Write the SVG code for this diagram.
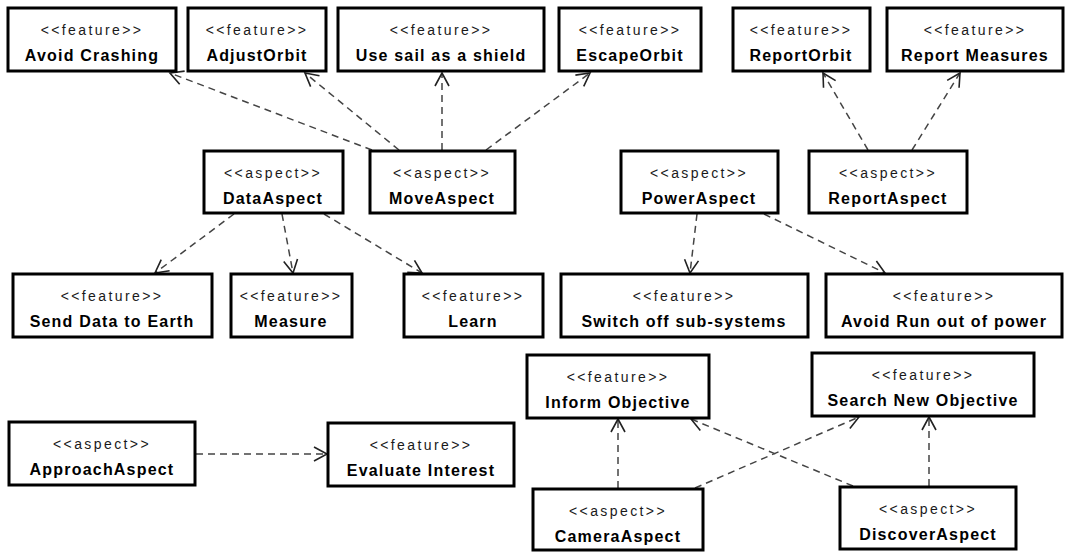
<svg xmlns="http://www.w3.org/2000/svg" width="1068" height="552" viewBox="0 0 1068 552">
  <defs>
    <style>
      .box { fill: #ffffff; stroke: #000000; stroke-width: 3; }
      .st { font-family: "Liberation Sans", Arial, sans-serif; font-size: 14px; letter-spacing: 2.4px; fill: #1a1a1a; text-anchor: middle; }
      .nm { font-family: "Liberation Sans", Arial, sans-serif; font-size: 16px; font-weight: bold; letter-spacing: 1.2px; fill: #000000; text-anchor: middle; }
      .dep { fill: none; stroke: #444444; stroke-width: 1.5; stroke-dasharray: 7 5; marker-end: url(#open); }
    </style>
    <!-- open V-shaped arrowhead for dependency arrows -->
    <marker id="open" viewBox="-15 -9 17 18" refX="0" refY="0" markerWidth="17" markerHeight="18" markerUnits="userSpaceOnUse" orient="auto">
      <path d="M-13,-7 L0,0 L-13,7" fill="none" stroke="#222222" stroke-width="1.6"/>
    </marker>
  </defs>

  <rect width="1068" height="552" fill="#ffffff"/>

  <!-- dependency connectors: aspect -> feature -->
  <g id="connectors">
    <line class="dep" x1="372" y1="150" x2="170" y2="73"/>
    <line class="dep" x1="399" y1="150" x2="305" y2="73"/>
    <line class="dep" x1="442" y1="150" x2="442" y2="73"/>
    <line class="dep" x1="486" y1="150" x2="590" y2="73"/>
    <line class="dep" x1="868" y1="150" x2="823" y2="73"/>
    <line class="dep" x1="912" y1="150" x2="960" y2="73"/>
    <line class="dep" x1="234" y1="214" x2="155" y2="273"/>
    <line class="dep" x1="282" y1="214" x2="293" y2="273"/>
    <line class="dep" x1="324" y1="214" x2="422" y2="273"/>
    <line class="dep" x1="697" y1="214" x2="690" y2="273"/>
    <line class="dep" x1="764" y1="214" x2="885" y2="273"/>
    <line class="dep" x1="196" y1="454" x2="327" y2="454"/>
    <line class="dep" x1="618" y1="488" x2="618" y2="419"/>
    <line class="dep" x1="695" y1="488" x2="859" y2="417"/>
    <line class="dep" x1="853" y1="486" x2="691" y2="419"/>
    <line class="dep" x1="929" y1="486" x2="929" y2="417"/>
  </g>

  <!-- row 1: features -->
  <g id="avoidCrashing">
    <rect class="box" x="8" y="8" width="168" height="63"/>
    <text class="st" x="92" y="35">&lt;&lt;feature&gt;&gt;</text>
    <text class="nm" x="92" y="61">Avoid Crashing</text>
  </g>
  <g id="adjustOrbit">
    <rect class="box" x="188" y="8" width="138" height="63"/>
    <text class="st" x="257" y="35">&lt;&lt;feature&gt;&gt;</text>
    <text class="nm" x="257" y="61">AdjustOrbit</text>
  </g>
  <g id="useSail">
    <rect class="box" x="338" y="8" width="206" height="63"/>
    <text class="st" x="441" y="35">&lt;&lt;feature&gt;&gt;</text>
    <text class="nm" x="441" y="61">Use sail as a shield</text>
  </g>
  <g id="escapeOrbit">
    <rect class="box" x="559" y="8" width="142" height="63"/>
    <text class="st" x="630" y="35">&lt;&lt;feature&gt;&gt;</text>
    <text class="nm" x="630" y="61">EscapeOrbit</text>
  </g>
  <g id="reportOrbit">
    <rect class="box" x="733" y="8" width="137" height="63"/>
    <text class="st" x="801" y="35">&lt;&lt;feature&gt;&gt;</text>
    <text class="nm" x="801" y="61">ReportOrbit</text>
  </g>
  <g id="reportMeasures">
    <rect class="box" x="887" y="8" width="176" height="63"/>
    <text class="st" x="975" y="35">&lt;&lt;feature&gt;&gt;</text>
    <text class="nm" x="975" y="61">Report Measures</text>
  </g>

  <!-- row 2: aspects -->
  <g id="dataAspect">
    <rect class="box" x="204" y="151" width="139" height="62"/>
    <text class="st" x="273" y="178">&lt;&lt;aspect&gt;&gt;</text>
    <text class="nm" x="273" y="204">DataAspect</text>
  </g>
  <g id="moveAspect">
    <rect class="box" x="370" y="151" width="145" height="62"/>
    <text class="st" x="442" y="178">&lt;&lt;aspect&gt;&gt;</text>
    <text class="nm" x="442" y="204">MoveAspect</text>
  </g>
  <g id="powerAspect">
    <rect class="box" x="621" y="151" width="157" height="62"/>
    <text class="st" x="699" y="178">&lt;&lt;aspect&gt;&gt;</text>
    <text class="nm" x="699" y="204">PowerAspect</text>
  </g>
  <g id="reportAspect">
    <rect class="box" x="809" y="151" width="158" height="62"/>
    <text class="st" x="888" y="178">&lt;&lt;aspect&gt;&gt;</text>
    <text class="nm" x="888" y="204">ReportAspect</text>
  </g>

  <!-- row 3: features -->
  <g id="sendData">
    <rect class="box" x="13" y="274" width="199" height="63"/>
    <text class="st" x="112" y="301">&lt;&lt;feature&gt;&gt;</text>
    <text class="nm" x="112" y="327">Send Data to Earth</text>
  </g>
  <g id="measure">
    <rect class="box" x="231" y="274" width="121" height="63"/>
    <text class="st" x="291" y="301">&lt;&lt;feature&gt;&gt;</text>
    <text class="nm" x="291" y="327">Measure</text>
  </g>
  <g id="learn">
    <rect class="box" x="404" y="274" width="139" height="63"/>
    <text class="st" x="473" y="301">&lt;&lt;feature&gt;&gt;</text>
    <text class="nm" x="473" y="327">Learn</text>
  </g>
  <g id="switchOff">
    <rect class="box" x="561" y="274" width="247" height="63"/>
    <text class="st" x="684" y="301">&lt;&lt;feature&gt;&gt;</text>
    <text class="nm" x="684" y="327">Switch off sub-systems</text>
  </g>
  <g id="avoidRunOut">
    <rect class="box" x="826" y="274" width="236" height="63"/>
    <text class="st" x="944" y="301">&lt;&lt;feature&gt;&gt;</text>
    <text class="nm" x="944" y="327">Avoid Run out of power</text>
  </g>

  <!-- lower area -->
  <g id="approachAspect">
    <rect class="box" x="9" y="422" width="186" height="63"/>
    <text class="st" x="102" y="449">&lt;&lt;aspect&gt;&gt;</text>
    <text class="nm" x="102" y="475">ApproachAspect</text>
  </g>
  <g id="evaluateInterest">
    <rect class="box" x="328" y="423" width="186" height="63"/>
    <text class="st" x="421" y="450">&lt;&lt;feature&gt;&gt;</text>
    <text class="nm" x="421" y="476">Evaluate Interest</text>
  </g>
  <g id="informObjective">
    <rect class="box" x="527" y="355" width="182" height="63"/>
    <text class="st" x="618" y="382">&lt;&lt;feature&gt;&gt;</text>
    <text class="nm" x="618" y="408">Inform Objective</text>
  </g>
  <g id="searchNewObjective">
    <rect class="box" x="812" y="353" width="222" height="63"/>
    <text class="st" x="923" y="380">&lt;&lt;feature&gt;&gt;</text>
    <text class="nm" x="923" y="406">Search New Objective</text>
  </g>
  <g id="cameraAspect">
    <rect class="box" x="533" y="489" width="170" height="61"/>
    <text class="st" x="618" y="516">&lt;&lt;aspect&gt;&gt;</text>
    <text class="nm" x="618" y="542">CameraAspect</text>
  </g>
  <g id="discoverAspect">
    <rect class="box" x="840" y="487" width="176" height="62"/>
    <text class="st" x="928" y="514">&lt;&lt;aspect&gt;&gt;</text>
    <text class="nm" x="928" y="540">DiscoverAspect</text>
  </g>
</svg>
